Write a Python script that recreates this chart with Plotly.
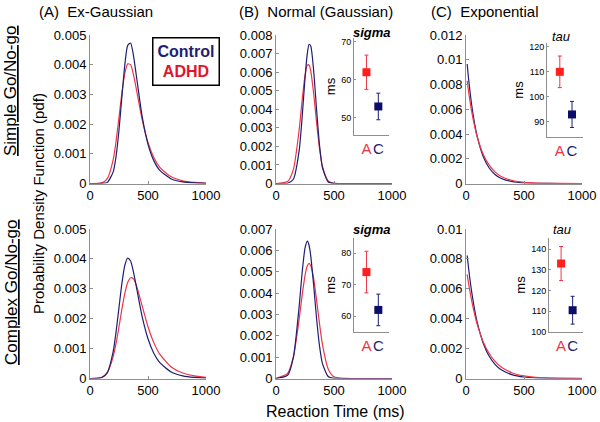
import plotly.graph_objects as go

# reaction-time grids (ms)
XG = [0, 100, 150, 200, 225, 250, 275, 300, 325, 350, 375, 400, 450, 500, 550, 600, 700, 800, 900, 1000]
XN = [0, 100, 150, 200, 225, 250, 270, 285, 300, 325, 350, 375, 400, 450, 500, 600, 1000]
XE = [10, 25, 50, 75, 100, 150, 200, 250, 300, 400, 500, 600, 800, 1000]

# (A) ex-Gaussian pdf
exg_simple_ctrl = [0, 0.000002, 0.000038, 0.00039, 0.00092, 0.0018, 0.00292, 0.00399, 0.00465, 0.00473,
                   0.0043, 0.00362, 0.00225, 0.00132, 0.00077, 0.00045, 0.000154, 0.000053, 0.000018, 0.000006]
exg_simple_adhd = [0, 0.000019, 0.000164, 0.0008, 0.00143, 0.00223, 0.00305, 0.0037, 0.00403, 0.004,
                   0.00366, 0.00317, 0.00214, 0.00138, 0.000874, 0.000555, 0.000224, 0.00009, 0.000036, 0.000015]
exg_complex_ctrl = [0, 0.000023, 0.000196, 0.000904, 0.00157, 0.00238, 0.00318, 0.00378, 0.00403, 0.00393,
                    0.00356, 0.00306, 0.00206, 0.00133, 0.000845, 0.000539, 0.000219, 0.000089, 0.000036, 0.000015]
exg_complex_adhd = [0, 0.00004, 0.000209, 0.000733, 0.00118, 0.00173, 0.00232, 0.00284, 0.00321, 0.00337,
                    0.00333, 0.00311, 0.00242, 0.00173, 0.0012, 0.000822, 0.000387, 0.000183, 0.000086, 0.000041]

# (B) normal component pdf
nrm_simple_ctrl = [0, 0.000012, 0.00023, 0.00178, 0.00355, 0.00566, 0.00701, 0.0075, 0.0074, 0.00605,
                   0.00397, 0.00208, 0.00087, 0.00008, 0.000003, 0, 0]
nrm_simple_adhd = [0, 0.000104, 0.00076, 0.00291, 0.00446, 0.00581, 0.00638, 0.00639, 0.00604, 0.00482,
                   0.00328, 0.00189, 0.00093, 0.000137, 0.00001, 0, 0]
nrm_complex_ctrl = [0, 0.00015, 0.00099, 0.0034, 0.00494, 0.0061, 0.00643, 0.00624, 0.00572, 0.00434,
                    0.0028, 0.00153, 0.00071, 0.000095, 0.000007, 0, 0]
nrm_complex_adhd = [0, 0.000237, 0.00102, 0.00279, 0.00388, 0.00482, 0.00528, 0.00539, 0.00528, 0.00466,
                    0.00366, 0.00257, 0.00161, 0.00045, 0.00008, 0.000005, 0]

# (C) exponential component pdf
exp_simple_ctrl = [0.00966, 0.00821, 0.00628, 0.0048, 0.00367, 0.00214, 0.00125, 0.00073, 0.00043,
                   0.000146, 0.00005, 0.000017, 0.000002, 0]
exp_simple_adhd = [0.0083, 0.00724, 0.00577, 0.0046, 0.00366, 0.00232, 0.00148, 0.00094, 0.00059,
                   0.00024, 0.000096, 0.000039, 0.000006, 0.000001]
exp_complex_ctrl = [0.00823, 0.00719, 0.00574, 0.00458, 0.00366, 0.00233, 0.00149, 0.00095, 0.0006,
                    0.000245, 0.0001, 0.00004, 0.000007, 0.000001]
exp_complex_adhd = [0.00697, 0.00623, 0.00516, 0.00428, 0.00354, 0.00243, 0.00167, 0.00115, 0.00079,
                    0.00037, 0.000175, 0.000083, 0.000018, 0.000004]

# inset parameter estimates (ms), order: ADHD, Control
groups = ["A", "C"]
sigma_simple = [62, 53]
sigma_simple_err = [4.5, 3.5]
tau_simple = [110, 93]
tau_simple_err = [6.3, 5.2]
sigma_complex = [74, 62]
sigma_complex_err = [6.6, 5.0]
tau_complex = [133, 110.5]
tau_complex_err = [8.2, 6.7]

NAVY = "#1e1e72"
RED = "#ee3447"
MRED = "#ff1f1f"
MNAVY = "#0c0c6a"
AXC = "#8f8f8f"
FONT = "Arial, Liberation Sans, sans-serif"
W, H = 600, 422


def px(x0, x1):
    return [x0 / W, x1 / W]


def py(top, bottom):
    return [1 - bottom / H, 1 - top / H]


def ax(n, kind):
    return kind if n == 1 else f"{kind}{n}"


fig = go.Figure()
layout = {}


def add_curve(n, x, y, color):
    fig.add_trace(go.Scatter(x=x, y=y, xaxis=ax(n, "x"), yaxis=ax(n, "y"), mode="lines",
                             line=dict(color=color, width=1.2, shape="spline", smoothing=0.6),
                             showlegend=False, hoverinfo="skip"))


def main_axes(n, xdom, ydom, ymax, dtick):
    common = dict(showline=True, linecolor=AXC, linewidth=1, showgrid=False, zeroline=False,
                  ticks="inside", ticklen=3, tickcolor=AXC, automargin=False,
                  tickfont=dict(size=13, color="black", family=FONT))
    layout[ax(n, "xaxis")] = dict(domain=xdom, anchor=ax(n, "y"), range=[0, 1000],
                                 tickvals=[0, 500, 1000], **common)
    layout[ax(n, "yaxis")] = dict(domain=ydom, anchor=ax(n, "x"), range=[0, ymax], tick0=0, dtick=dtick,
                                 **common)


def inset(n, xdom, ydom, yrange, tickvals, vals, errs):
    for i, c, ec in [(0, MRED, RED), (1, MNAVY, NAVY)]:
        fig.add_trace(go.Scatter(x=[groups[i]], y=[vals[i]], xaxis=ax(n, "x"), yaxis=ax(n, "y"),
                                 mode="markers", marker=dict(symbol="square", size=8, color=c),
                                 error_y=dict(type="data", array=[errs[i]], color=ec, thickness=1, width=2),
                                 showlegend=False, hoverinfo="skip"))
    layout[ax(n, "xaxis")] = dict(domain=xdom, anchor=ax(n, "y"), type="category", categoryarray=groups,
                                 range=[-1.05, 1.9], tickvals=groups, tickangle=0,
                                 ticktext=[f'<span style="color:{RED}">A</span>',
                                           f'<span style="color:{NAVY}">C</span>'],
                                 showline=True, linecolor=AXC, linewidth=1, showgrid=False, zeroline=False,
                                 ticks="", automargin=False, tickfont=dict(size=15, family=FONT))
    layout[ax(n, "yaxis")] = dict(domain=ydom, anchor=ax(n, "x"), range=yrange, tickvals=tickvals,
                                 showline=True, linecolor=AXC, linewidth=1, showgrid=False, zeroline=False,
                                 ticks="inside", ticklen=2, tickcolor=AXC, automargin=False,
                                 tickfont=dict(size=9, color="black", family=FONT),
                                 title=dict(text="ms", standoff=2, font=dict(size=13, color="black", family=FONT)))


# top row: Simple Go/No-go
add_curve(1, XG, exg_simple_adhd, RED)
add_curve(1, XG, exg_simple_ctrl, NAVY)
add_curve(2, XN, nrm_simple_adhd, RED)
add_curve(2, XN, nrm_simple_ctrl, NAVY)
add_curve(3, XE, exp_simple_ctrl, NAVY)
add_curve(3, XE, exp_simple_adhd, RED)
# bottom row: Complex Go/No-go
add_curve(4, XG, exg_complex_adhd, RED)
add_curve(4, XG, exg_complex_ctrl, NAVY)
add_curve(5, XN, nrm_complex_adhd, RED)
add_curve(5, XN, nrm_complex_ctrl, NAVY)
add_curve(6, XE, exp_complex_ctrl, NAVY)
add_curve(6, XE, exp_complex_adhd, RED)

main_axes(1, px(90, 206), py(35, 183.5), 0.005, 0.001)
main_axes(2, px(276, 392), py(35, 183.5), 0.008, 0.001)
main_axes(3, px(466, 582), py(35, 183.5), 0.012, 0.002)
main_axes(4, px(90, 206), py(229, 378.5), 0.005, 0.001)
main_axes(5, px(276, 392), py(229, 378.5), 0.007, 0.001)
main_axes(6, px(466, 582), py(229, 378.5), 0.01, 0.002)

inset(7, px(354, 389), py(38, 135), [45.5, 71], [50, 60, 70], sigma_simple, sigma_simple_err)
inset(8, px(547, 583), py(43, 137), [84, 121.5], [90, 100, 110, 120], tau_simple, tau_simple_err)
inset(9, px(354, 389), py(238, 332), [55, 84.8], [60, 70, 80], sigma_complex, sigma_complex_err)
inset(10, px(549, 583), py(238, 332), [100, 145.3], [100, 110, 120, 130, 140], tau_complex, tau_complex_err)


def note(text, x, y, size, **kw):
    d = dict(text=text, x=x / W, y=1 - y / H, xref="paper", yref="paper", showarrow=False,
             xanchor="center", yanchor="middle",
             font=dict(size=size, color="black", family=FONT))
    d.update(kw)
    return d


annotations = [
    note("(A)  Ex-Gaussian", 37, 12, 15, xanchor="left"),
    note("(B)  Normal (Gaussian)", 237, 12, 15, xanchor="left"),
    note("(C)  Exponential", 429, 12, 15, xanchor="left"),
    note(f'<b><span style="color:{NAVY}">Control</span></b><br><b><span style="color:#e0142e">ADHD</span></b>',
         186, 61, 16, bordercolor="black", borderwidth=1.5, borderpad=4, bgcolor="white"),
    note("<b><i>sigma</i></b>", 372, 33, 13),
    note("<i>tau</i>", 561, 37, 13),
    note("<b><i>sigma</i></b>", 372, 229, 13),
    note("<i>tau</i>", 562, 229, 13),
    note("<u>Simple Go/No-go</u>", 11, 91, 17, textangle=-90),
    note("<u>Complex Go/No-go</u>", 11, 292, 17, textangle=-90),
    note("Probability Density Function (pdf)", 38, 204, 15, textangle=-90),
    note("Reaction Time (ms)", 335, 411, 16),
]

fig.update_layout(template="none", width=W, height=H, margin=dict(l=0, r=0, t=0, b=0, autoexpand=False),
                  paper_bgcolor="white", plot_bgcolor="white", showlegend=False,
                  font=dict(family=FONT, color="black"),
                  annotations=annotations, **layout)

# drop the default page margin so the figure sits at the window's corner
fig.write_html("out.html", config={"displayModeBar": False},
               post_script="document.body.style.margin='0';")
